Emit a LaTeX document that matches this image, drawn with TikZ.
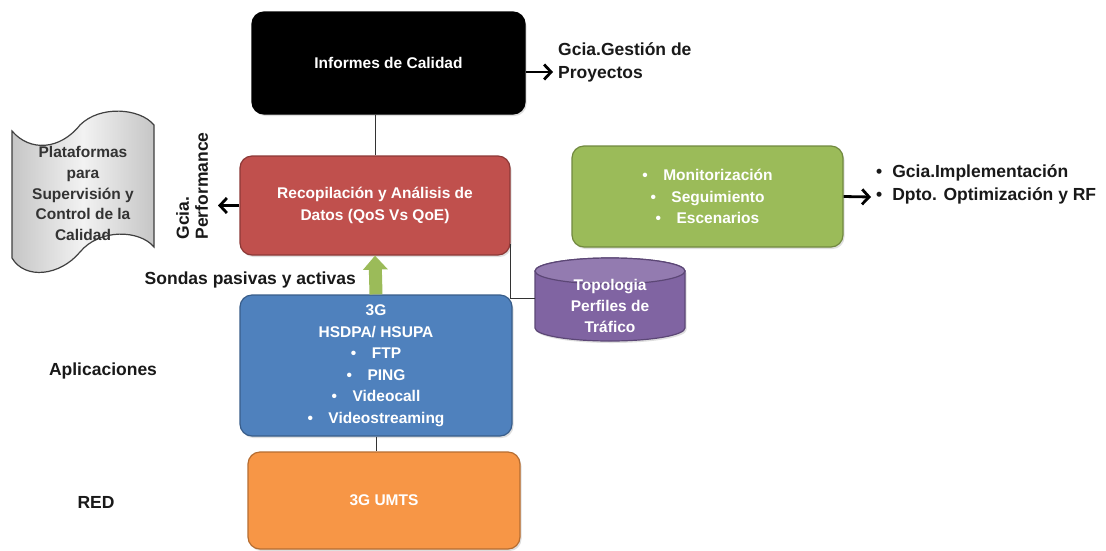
\documentclass[tikz,border=0pt]{standalone}
\usepackage{fontspec}
\setmainfont{Liberation Sans}
\usetikzlibrary{positioning, arrows.meta, shadows, calc}

\definecolor{redfill}{HTML}{C0504D}
\definecolor{redline}{HTML}{8C3836}
\definecolor{greenfill}{HTML}{9BBB59}
\definecolor{greenline}{HTML}{71893F}
\definecolor{bluefill}{HTML}{4F81BD}
\definecolor{blueline}{HTML}{385D8A}
\definecolor{orangefill}{HTML}{F79646}
\definecolor{orangeline}{HTML}{B66D31}
\definecolor{purplefill}{HTML}{8064A2}
\definecolor{purpleline}{HTML}{5C4776}

\begin{document}
\begin{tikzpicture}[
      x=1pt, y=-1pt,
      >={Straight Barb[length=7pt, width=15pt]},
      block/.style={draw, rounded corners=12pt, line width=1.2pt, align=center, text=white,
         font=\fontsize{15.5}{21.5}\selectfont\bfseries, inner sep=0pt,
         drop shadow={opacity=0.25, shadow xshift=1.5pt, shadow yshift=-2pt}},
      drum/.style={fill=purplefill, draw=purpleline, line width=1.2pt},
      drumtext/.style={align=center, text=white, inner sep=0pt, minimum width=150pt,
         font=\fontsize{15.5}{21}\selectfont\bfseries},
      doc/.style={draw=black!75, line width=1.2pt, left color=gray!45, right color=gray!45, middle color=gray!10},
      doctext/.style={font=\fontsize{15.5}{20.7}\selectfont\bfseries, text=black!80, align=center, inner sep=0pt},
      tag/.style={font=\fontsize{17.5}{23}\selectfont\bfseries, text=black!90, align=left, inner sep=0pt},
      link/.style={draw=black!80, line width=1pt},
      pointer/.style={->, line width=2.8pt},
      sonda/.style={draw=greenfill, line width=13pt, -{Triangle[width=24pt, length=14pt]}}
   ]
      \fill[white] (0,0) rectangle (1106,550);
      \useasboundingbox (0,0) rectangle (1106,550);

      % Document shape on the left
      \draw[doc] (12,131) .. controls (30,152) and (60,150) .. (80,125)
         .. controls (100,105) and (140,108) .. (154,125) -- (154,247)
         .. controls (140,230) and (100,228) .. (80,252)
         .. controls (60,276) and (25,280) .. (12,258) -- cycle;
      \node[doctext] (plat) at (83,193.5) {Plataformas\\para\\Supervisión y\\Control de la\\Calidad};

      % Database drum
      \path[drum, drop shadow={opacity=0.25, shadow xshift=1.5pt, shadow yshift=-2pt}]
         (535,271) -- (535,328) arc[start angle=180, end angle=0, x radius=75, y radius=13]
         -- (685,271) arc[start angle=360, end angle=180, x radius=75, y radius=13] -- cycle;
      \draw[drum, fill=purplefill!85!white] (610,271) ellipse [x radius=75, y radius=13];
      \node[drumtext] (topo) at (610,306) {Topologia\\Perfiles de\\Tráfico};

      % Boxes
      \node[block, fill=black, draw=black, minimum width=273pt, minimum height=102pt] (inf) at (388.5,63) {Informes de Calidad};
      \node[block, fill=redfill, draw=redline, minimum width=270pt, minimum height=99pt] (rec) at (375,205.5) {Recopilación y Análisis de\\Datos (QoS Vs QoE)};
      \node[block, fill=greenfill, draw=greenline, minimum width=271pt, minimum height=101pt] (mon) at (707.5,196.5) {\textbullet\quad Monitorización\\\textbullet\quad Seguimiento\\\textbullet\quad Escenarios};
      \node[block, fill=bluefill, draw=blueline, minimum width=272pt, minimum height=141pt] (app) at (376,365.5) {3G\\HSDPA/ HSUPA\\\textbullet\quad FTP\\\textbullet\quad PING\\\textbullet\quad Videocall\\\textbullet\quad Videostreaming};
      \node[block, fill=orangefill, draw=orangeline, minimum width=272pt, minimum height=97pt] (umts) at (384,500.5) {3G UMTS};

      % Labels
      \node[tag, anchor=west] (gpro) at (558,62) {Gcia.Gestión de\\Proyectos};
      \node[tag, rotate=90, font=\fontsize{17.5}{19}\selectfont\bfseries] (perf) at (192,186) {Gcia.\\Performance};
      \node[tag, anchor=east] (sondas) at (356,280) {Sondas pasivas y activas};
      \node[tag] (apl) at (103,371) {Aplicaciones};
      \node[tag] (net) at (96,502) {RED};
      \node[tag, anchor=west] (dest) at (876,184) {\textbullet\hspace{10pt}Gcia.Implementación\\\textbullet\hspace{10pt}Dpto. Optimización y RF};

      \coordinate (gpend) at (553,72);
      \coordinate (perfend) at (218,205.5);
      \coordinate (monend) at (871,197);

      % Connectors
      \draw[link] (rec.north) -- (rec.north |- inf.south);
      \draw[pointer] (inf.east |- gpend) -- (gpend);
      \draw[pointer] (rec.west) -- (perfend);
      \draw[pointer] (mon.east) -- (monend);
      \draw[link] ([yshift=-38pt]rec.east) |- ([yshift=8pt]topo.west);
      \draw[link] (app.south) -- (app.south |- umts.north);
      \draw[sonda] (app.north) -- (rec.south);
\end{tikzpicture}
\end{document}
